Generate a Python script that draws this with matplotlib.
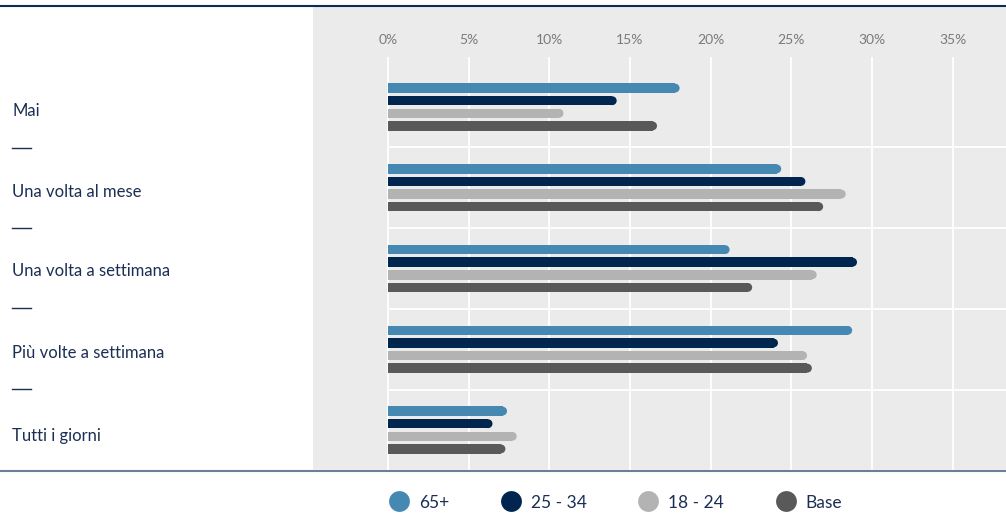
import matplotlib
matplotlib.use("Agg")
import matplotlib.pyplot as plt
from matplotlib.patches import Rectangle
from matplotlib.lines import Line2D
import numpy as np

categories = ["Mai", "Una volta al mese", "Una volta a settimana", "Più volte a settimana", "Tutti i giorni"]
series_names = ["65+", "25 - 34", "18 - 24", "Base"]
v_65 = [18.1, 24.4, 21.2, 28.8, 7.4]
v_2534 = [14.2, 25.9, 29.1, 24.2, 6.5]
v_1824 = [10.9, 28.4, 26.6, 26.0, 8.0]
v_base = [16.7, 27.0, 22.6, 26.3, 7.3]
colors = ["#4589b2", "#00264f", "#b3b3b3", "#595959"]
xticks = [0, 5, 10, 15, 20, 25, 30, 35]
xticklabels = ["0%", "5%", "10%", "15%", "20%", "25%", "30%", "35%"]

W, H = 1006, 525
plt.rcParams['font.family'] = ['Lato', 'DejaVu Sans']
fig = plt.figure(figsize=(W / 100, H / 100), dpi=100)

def fx(px):
    return px / W

def fy(py):
    return 1 - py / H

# grey panel top strip
fig.patches.append(Rectangle((fx(313), fy(57)), fx(1006) - fx(313), fy(7) - fy(57),
                             transform=fig.transFigure, facecolor="#ebebeb", edgecolor="none", zorder=-5))

ax = fig.add_axes([fx(313), fy(470), fx(1006) - fx(313), fy(57) - fy(470)])
ax.set_zorder(2)
ax.set_facecolor("#ebebeb")
px_per_unit = (952.5 - 388) / 35.0
ax.set_xlim((313 - 388) / px_per_unit, (1006 - 388) / px_per_unit)
cat_px = 80.75
ax.set_ylim((470 - 107) / cat_px, -(107 - 57) / cat_px)
for s in ax.spines.values():
    s.set_visible(False)

ax.set_xticks(xticks)
ax.set_xticklabels(xticklabels)
ax.xaxis.tick_top()
ax.tick_params(axis='x', length=0, pad=8, labelsize=10, labelcolor="#7a7a7a",
               top=True, labeltop=True, bottom=False, labelbottom=False)
ax.set_yticks([])
for t in xticks:
    ax.axvline(t, color="white", lw=1.3, zorder=1)
xmax_data = ax.get_xlim()[1]
for i in range(len(categories) - 1):
    ax.hlines(i + 0.5, 0, xmax_data, color="white", lw=1.3, zorder=1)

series = [v_65, v_2534, v_1824, v_base]
bar_h_px = 9.5
step_px = 12.6
bh = bar_h_px / cat_px
r = (bar_h_px / 2) / px_per_unit
y0 = np.arange(len(categories))
for k, (vals, c) in enumerate(zip(series, colors)):
    yy = y0 + (k - 1.5) * step_px / cat_px
    vals = np.array(vals)
    ax.barh(yy, vals - r, height=bh, left=0, color=c, zorder=3, linewidth=0)
    ax.scatter(vals - r, yy, s=(bar_h_px * 0.72 * 0.93) ** 2, color=c, marker='o', zorder=3,
               linewidths=0, edgecolors='none')

# category labels
label_y = [111.5, 191.5, 270.5, 353.5, 435.5]
for lab, py in zip(categories, label_y):
    fig.text(fx(12), fy(py), lab, ha="left", va="center", fontsize=12, color="#1b2f55")
for py in [147.5, 228, 308, 389]:
    fig.add_artist(Line2D([fx(12), fx(31)], [fy(py), fy(py)], transform=fig.transFigure,
                          color="#1b2f55", lw=1))

# frame lines
fig.add_artist(Line2D([0, 1], [fy(5.5), fy(5.5)], transform=fig.transFigure, color="#0e2a55", lw=1.5))
fig.add_artist(Line2D([0, 1], [fy(470.5), fy(470.5)], transform=fig.transFigure, color="#6b7f98", lw=1.5))

# legend
handles = [Line2D([], [], marker='o', linestyle='none', markersize=15, markerfacecolor=c,
                  markeredgecolor='none') for c in colors]
leg = fig.legend(handles, series_names, loc="center", bbox_to_anchor=(fx(616), fy(502.5)), ncol=4,
                 frameon=False, fontsize=12.5, handletextpad=0.6, columnspacing=3.0, handlelength=1.1)
for t in leg.get_texts():
    t.set_color("#1b2f55")

fig.savefig("out.png", dpi=100)
